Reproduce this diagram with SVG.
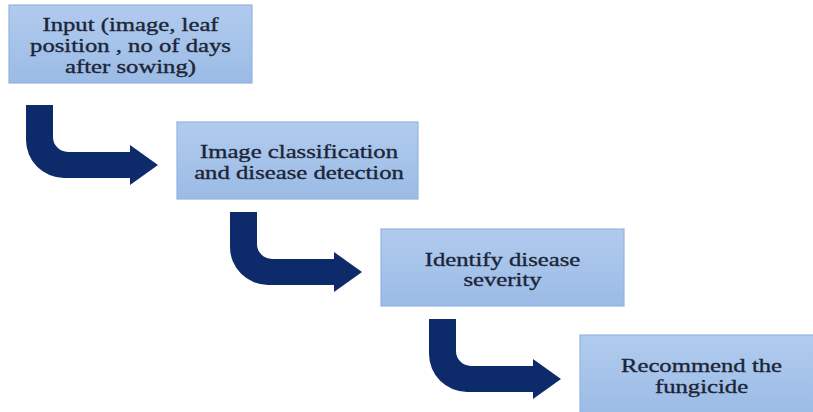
<svg xmlns="http://www.w3.org/2000/svg" width="813" height="412" viewBox="0 0 813 412">
<style>
.box{fill:url(#g);stroke:#94b4de;stroke-width:1.2}
.t{font-family:"Liberation Serif","Times New Roman",serif;font-size:19px;fill:#1b2538;stroke:#1b2538;stroke-width:0.35;text-anchor:middle}
.arr{fill:#0d2b6b}
</style>
<defs>
<linearGradient id="g" x1="0" y1="0" x2="0" y2="1">
<stop offset="0" stop-color="#b1cbee"/>
<stop offset="1" stop-color="#9bbbe5"/>
</linearGradient>
<path id="a" d="M26,105 L26,140 A38,38 0 0 0 64,178 L130,178 L130,185 L158,165 L130,145 L130,152 L68,152 A15,15 0 0 1 53,137 L53,105 Z"/>
</defs>
<rect width="813" height="412" fill="#ffffff"/>
<g id="connectors" class="arr">
<use href="#a"/>
<use href="#a" transform="translate(204,107)"/>
<use href="#a" transform="translate(403,214)"/>
</g>
<g id="n1">
<rect class="box" x="9" y="5" width="243" height="78"/>
<text class="t" transform="translate(130.5,30.5) scale(1.3,1)">Input (image, leaf</text>
<text class="t" transform="translate(130.5,52) scale(1.3,1)">position , no of days</text>
<text class="t" transform="translate(130.5,73) scale(1.3,1)">after sowing)</text>
</g>
<g id="n2">
<rect class="box" x="177" y="122" width="241" height="77"/>
<text class="t" transform="translate(299,158) scale(1.3,1)">Image classification</text>
<text class="t" transform="translate(299,178.5) scale(1.3,1)">and disease detection</text>
</g>
<g id="n3">
<rect class="box" x="381" y="229" width="243" height="77"/>
<text class="t" transform="translate(502.5,266) scale(1.3,1)">Identify disease</text>
<text class="t" transform="translate(502.5,286) scale(1.3,1)">severity</text>
</g>
<g id="n4">
<rect class="box" x="580" y="335" width="240" height="82"/>
<text class="t" transform="translate(701.5,372) scale(1.3,1)">Recommend the</text>
<text class="t" transform="translate(701.5,393) scale(1.3,1)">fungicide</text>
</g>
</svg>
